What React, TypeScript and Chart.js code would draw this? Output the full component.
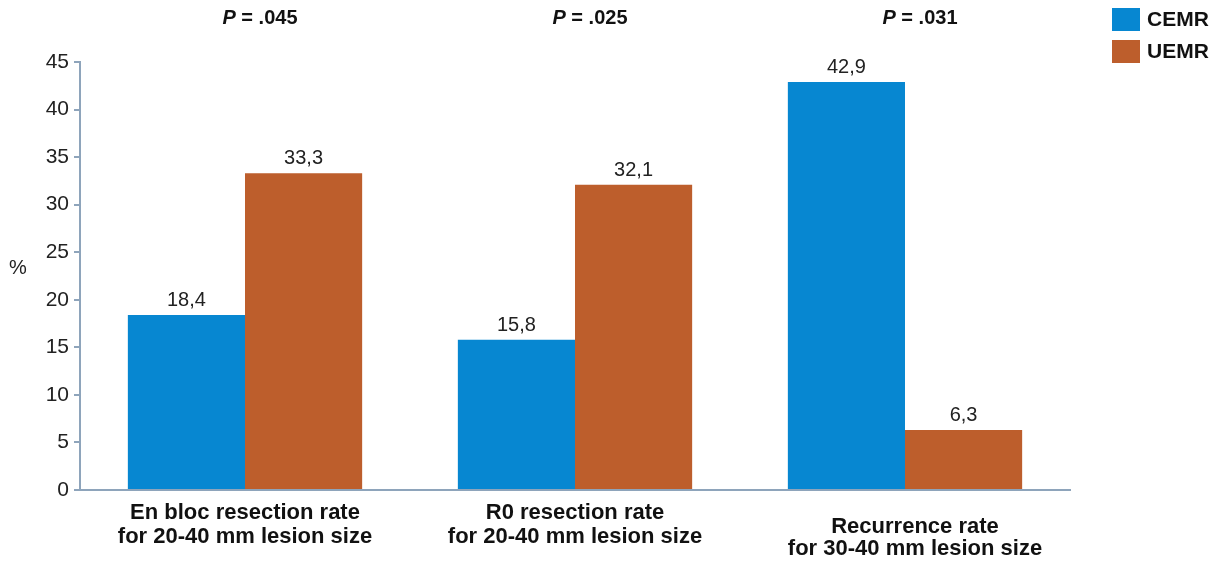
import React, { useEffect, useRef } from "react";
import { Chart, registerables } from "chart.js";

Chart.register(...registerables);

const categories: string[][] = [
  ["En bloc resection rate", "for 20-40 mm lesion size"],
  ["R0 resection rate", "for 20-40 mm lesion size"],
  ["Recurrence rate", "for 30-40 mm lesion size"],
];
const cemrValues = [18.4, 15.8, 42.9];
const uemrValues = [33.3, 32.1, 6.3];
const pValues = [".045", ".025", ".031"];
const seriesNames = ["CEMR", "UEMR"];
const yTicks = [0, 5, 10, 15, 20, 25, 30, 35, 40, 45];

const BLUE = "#0787d1";
const ORANGE = "#bd5e2c";
const AXIS = "#8ea4bb";
const FONT = "'Liberation Sans', Arial, sans-serif";

const fmt = (v: number) => v.toFixed(1).replace(".", ",");

const annotPlugin = {
  id: "annot",
  afterDraw(chart: any) {
    const ctx = chart.ctx;
    const x = chart.scales.x;
    const area = chart.chartArea;
    ctx.save();
    // data labels
    ctx.fillStyle = "#222";
    ctx.font = `20px ${FONT}`;
    ctx.textAlign = "center";
    ctx.textBaseline = "alphabetic";
    chart.data.datasets.forEach((ds: any, di: number) => {
      const meta = chart.getDatasetMeta(di);
      meta.data.forEach((bar: any, i: number) => {
        ctx.fillText(fmt(ds.data[i]), bar.x, bar.y - 9);
      });
    });
    // category labels
    ctx.fillStyle = "#111";
    ctx.font = `bold 22px ${FONT}`;
    ctx.textBaseline = "middle";
    categories.forEach((lines, i) => {
      const cx = x.getPixelForValue(i) + (i === 2 ? 10 : 0);
      const y0 = area.bottom + (i === 2 ? 37 : 23);
      const step = i === 2 ? 22 : 24;
      lines.forEach((ln, k) => ctx.fillText(ln, cx, y0 + k * step));
    });
    // P values
    categories.forEach((_, i) => {
      const cx = x.getPixelForValue(i) + 15;
      const rest = ` = ${pValues[i]}`;
      ctx.font = `bold italic 20px ${FONT}`;
      const wP = ctx.measureText("P").width;
      ctx.font = `bold 20px ${FONT}`;
      const wR = ctx.measureText(rest).width;
      const sx = cx - (wP + wR) / 2;
      ctx.textAlign = "left";
      ctx.font = `bold italic 20px ${FONT}`;
      ctx.fillText("P", sx, 18);
      ctx.font = `bold 20px ${FONT}`;
      ctx.fillText(rest, sx + wP, 18);
      ctx.textAlign = "center";
    });
    // y title
    ctx.font = `20px ${FONT}`;
    ctx.fillStyle = "#222";
    ctx.fillText("%", 18, 268);
    // legend
    chart.data.datasets.forEach((ds: any, di: number) => {
      const by = 8 + di * 32;
      ctx.fillStyle = ds.backgroundColor;
      ctx.fillRect(1112, by, 28, 23);
      ctx.fillStyle = "#111";
      ctx.font = `bold 21px ${FONT}`;
      ctx.textAlign = "left";
      ctx.fillText(ds.label, 1147, by + 12);
    });
    ctx.restore();
  },
};

export default function App() {
  const ref = useRef<HTMLCanvasElement>(null);
  useEffect(() => {
    document.body.style.margin = "0";
    const chart = new Chart(ref.current!, {
      type: "bar",
      data: {
        labels: categories.map((c) => c.join(" ")),
        datasets: [
          { label: seriesNames[0], data: cemrValues, backgroundColor: BLUE },
          { label: seriesNames[1], data: uemrValues, backgroundColor: ORANGE },
        ],
      },
      options: {
        animation: false,
        responsive: false,
        layout: { padding: { top: 62, right: 146, bottom: 72, left: 0 } },
        plugins: { legend: { display: false }, tooltip: { enabled: false } },
        datasets: { bar: { categoryPercentage: 0.71, barPercentage: 1 } },
        scales: {
          x: {
            ticks: { display: false },
            grid: { display: false },
            border: { color: AXIS, width: 2 },
            afterFit: (s: any) => { s.height = 0; },
          },
          y: {
            min: 0,
            max: 45,
            afterBuildTicks: (s: any) => { s.ticks = yTicks.map((v) => ({ value: v })); },
            ticks: { color: "#222", font: { family: FONT, size: 21 }, padding: 5 },
            grid: { drawOnChartArea: false, color: AXIS, tickLength: 6, lineWidth: 2 },
            border: { color: AXIS, width: 2 },
            afterFit: (s: any) => { s.width = 80; },
          },
        },
      },
      plugins: [annotPlugin],
    });
    return () => chart.destroy();
  }, []);
  return (
    <div style={{ width: 1216, height: 562 }}>
      <canvas ref={ref} width={1216} height={562} />
    </div>
  );
}
